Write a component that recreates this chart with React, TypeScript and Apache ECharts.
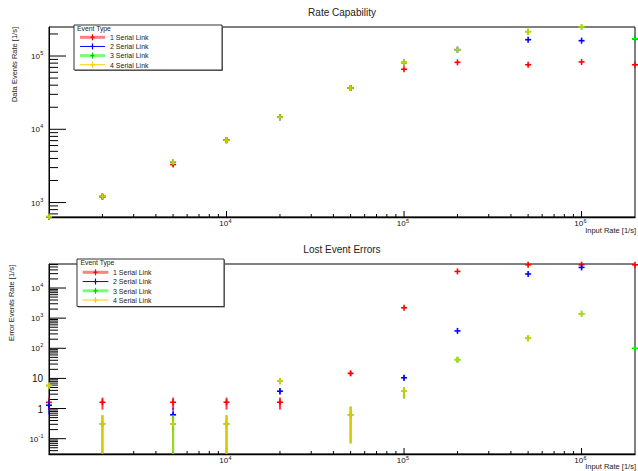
import React, { useEffect, useRef } from 'react';
import * as echarts from 'echarts';

const FONT = '"Liberation Sans", Arial, Helvetica, sans-serif';

// ---------------- data ----------------
const inputRates = [1e3, 2e3, 5e3, 1e4, 2e4, 5e4, 1e5, 2e5, 5e5, 1e6, 2e6];
const seriesNames = ['1 Serial Link', '2 Serial Link', '3 Serial Link', '4 Serial Link'];

// Rate Capability: data events rate [1/s]
const rateLink1 = [640, 1200, 3300, 7100, 14600, 36600, 66000, 82000, 76000, 83000, 76000];
const rateLink2 = [640, 1210, 3550, 7100, 14600, 36600, 81500, 122000, 167000, 162000, 172000];
const rateLink3 = [640, 1210, 3590, 7100, 14600, 36600, 81500, 122000, 215000, 249000, 172000];
const rateLink4 = [640, 1210, 3590, 7100, 14600, 36600, 81500, 122000, 215000, 249000, null];

// Lost Event Errors: error events rate [1/s] with error bar low / high
const lostLink1 = [1.6, 1.62, 1.62, 1.62, 1.62, 14.7, 2210, 35500, 59400, 59400, 59000];
const lostLink1Lo = [0.9, 0.92, 0.92, 0.92, 0.92, 12.2, null, null, null, null, null];
const lostLink1Hi = [2.3, 2.32, 2.32, 2.32, 2.32, 17.4, null, null, null, null, null];
const lostLink2 = [1.29, null, 0.62, null, 3.76, null, 10.5, 378, 29200, 48300, null];
const lostLink2Lo = [0.63, null, 0.19, null, 2.9, null, 8.4, null, null, null, null];
const lostLink2Hi = [2.0, null, 1.05, null, 4.8, null, 12.8, null, null, null, null];
const lostLink3 = [5.8, 0.31, 0.31, 0.31, 8.1, 0.62, 3.76, 41.8, 215, 1400, 100];
const lostLink3Lo = [4.6, 0.02, 0.02, 0.02, 6.7, 0.07, 2.15, 34, null, null, null];
const lostLink3Hi = [7.2, 0.6, 0.6, 0.6, 10, 1.16, 5.1, 50, null, null, null];
const lostLink4 = [5.8, 0.31, 0.31, 0.31, 8.1, 0.62, 3.76, 41.8, 215, 1400, null];
const lostLink4Lo = [4.6, 0.02, 0.02, 0.02, 6.7, 0.07, 2.15, 34, null, null, null];
const lostLink4Hi = [7.2, 0.6, 0.6, 0.6, 10, 1.16, 5.1, 50, null, null, null];

// axis ranges & ticks
const xMin = 1000, xMax = 2e6;
const rateYMin = 635, rateYMax = 2.49e5;
const lostYMin = 0.031, lostYMax = 62700;
const xMajorTicks = [1e4, 1e5, 1e6];
const xTickLabels = ['10^4', '10^5', '10^6'];
const rateYMajorTicks = [1e3, 1e4, 1e5];
const rateYTickLabels = ['10^3', '10^4', '10^5'];
const lostYMajorTicks = [0.1, 1, 10, 100, 1e3, 1e4];
const lostYTickLabels = ['10^-1', '1', '10', '10^2', '10^3', '10^4'];

// ---------------- styles ----------------
const markerColors = ['#ff0000', '#0000ff', '#00ee00', 'rgba(228,200,0,0.88)'];
const barColors = ['rgba(255,0,0,0.75)', '#0000ff', 'rgba(0,215,0,0.75)', 'rgba(232,200,0,0.9)'];
const barWidths = [2, 1, 2.2, 1.4];
const legendLine = [
  { stroke: 'rgba(255,60,60,0.65)', lineWidth: 3 },
  { stroke: '#0000ff', lineWidth: 1 },
  { stroke: 'rgba(60,255,60,0.7)', lineWidth: 3 },
  { stroke: '#ffcc00', lineWidth: 1 },
];
const legendMark = ['#ff0000', '#0000ff', '#00cc00', '#ffcc00'];

const isPow10 = (v: number) => Math.abs(Math.log10(v) - Math.round(Math.log10(v))) < 1e-9;
const findIdx = (arr: number[], v: number) => arr.findIndex((a) => Math.abs(Math.log10(a) - Math.log10(v)) < 1e-9);

function logTicks(min: number, max: number) {
  const out: number[] = [];
  const d0 = Math.floor(Math.log10(min)) - 1;
  const d1 = Math.ceil(Math.log10(max));
  for (let d = d0; d <= d1; d++) {
    for (let m = 1; m <= 9; m++) {
      const v = m * Math.pow(10, d);
      if (v > min * 1.0001 && v < max * 0.9999) out.push(v);
    }
  }
  return out;
}

function txt(text: string, x: number, y: number, size: number, align: string, valign: string, fill = '#111') {
  return {
    type: 'text',
    style: {
      text, x, y, fill,
      fontSize: size, fontFamily: FONT,
      align, verticalAlign: valign, textAlign: align, textVerticalAlign: valign,
    },
  };
}

function ln(x1: number, y1: number, x2: number, y2: number, stroke = '#000', lineWidth = 1) {
  return { type: 'line', shape: { x1, y1, x2, y2 }, style: { stroke, lineWidth } };
}

function labelEls(label: string, px: number, py: number, axis: 'x' | 'y') {
  const parts = label.split('^');
  const base = parts[0];
  const exp = parts[1];
  if (axis === 'x') {
    if (exp) return [txt(base, px + 1.7, py + 2.5, 8, 'right', 'top'), txt(exp, px + 2, py + 0.8, 5.5, 'left', 'top')];
    return [txt(base, px, py + 2.5, 8, 'center', 'top')];
  }
  if (exp) {
    const right = px - 9 - (exp.length - 1) * 1.7;
    return [txt(base, right, py + 0.5, 8, 'right', 'middle'), txt(exp, right + 0.3, py - 5.8, 5.5, 'left', 'top')];
  }
  return [txt(base, px - 6, py + 0.5, 10, 'right', 'middle')];
}

function decorSeries(gi: number, yMin: number, yMax: number, yMajor: number[], yLabels: string[]) {
  const data: number[][] = [];
  logTicks(xMin, xMax).forEach((v) => data.push([v, yMin, isPow10(v) ? 1 : 0, findIdx(xMajorTicks, v)]));
  logTicks(yMin, yMax).forEach((v) => data.push([xMin, v, isPow10(v) ? 3 : 2, findIdx(yMajor, v)]));
  return {
    type: 'custom', xAxisIndex: gi, yAxisIndex: gi, clip: false, silent: true, z: 3, data,
    renderItem: (params: any, api: any) => {
      const p = api.coord([api.value(0), api.value(1)]);
      const kind = api.value(2);
      const li = api.value(3);
      const ch: any[] = [];
      if (kind < 2) {
        ch.push(ln(p[0], p[1], p[0], p[1] - (kind === 1 ? 6 : 3)));
        if (li >= 0) ch.push(...labelEls(xTickLabels[li], p[0], p[1], 'x'));
      } else {
        ch.push(ln(p[0], p[1], p[0] + (kind === 3 ? 17 : 9), p[1]));
        if (li >= 0) ch.push(...labelEls(yLabels[li], p[0], p[1], 'y'));
      }
      return { type: 'group', children: ch };
    },
  };
}

function pointSeries(gi: number, k: number, values: (number | null)[], lo: (number | null)[] | null, hi: (number | null)[] | null, yMin: number, yMax: number) {
  const data: number[][] = [];
  inputRates.forEach((x, i) => {
    const v = values[i];
    if (v == null) return;
    data.push([x, v, (lo && lo[i]) || 0, (hi && hi[i]) || 0]);
  });
  return {
    type: 'custom', name: seriesNames[k], xAxisIndex: gi, yAxisIndex: gi, clip: false, silent: true, z: 10 + k, data,
    renderItem: (params: any, api: any) => {
      const x = api.value(0), y = api.value(1), l = api.value(2), h = api.value(3);
      const p = api.coord([x, y]);
      const ch: any[] = [];
      if (l > 0 && h > 0) {
        const a = api.coord([x, Math.max(l, yMin)]);
        const b = api.coord([x, Math.min(h, yMax)]);
        ch.push(ln(p[0], a[1], p[0], b[1], barColors[k], barWidths[k]));
      }
      const c = markerColors[k];
      ch.push(ln(p[0] - 3, p[1], p[0] + 3, p[1], c, 1.6));
      ch.push(ln(p[0], p[1] - 3, p[0], p[1] + 3, c, 1.6));
      return { type: 'group', children: ch };
    },
  };
}

function legendGraphic(x: number, y: number, w: number, h: number, headX: number, headY: number, row0: number, step: number, lx0: number, lx1: number, tx: number) {
  const ch: any[] = [
    { type: 'rect', shape: { x: x + 1, y: y + 1, width: w, height: h }, style: { fill: '#777' } },
    { type: 'rect', shape: { x, y, width: w, height: h }, style: { fill: '#fff', stroke: '#333', lineWidth: 1 } },
    txt('Event Type', headX, headY, 6.8, 'left', 'top', '#222'),
  ];
  seriesNames.forEach((n, k) => {
    const ry = row0 + k * step;
    const mx = (lx0 + lx1) / 2;
    ch.push(ln(lx0, ry, lx1, ry, legendLine[k].stroke, legendLine[k].lineWidth));
    ch.push(ln(mx, ry - 3, mx, ry + 3, legendMark[k], 1.2));
    ch.push(ln(mx - 2, ry, mx + 2, ry, legendMark[k], 1.2));
    ch.push(txt(n, tx, ry + 0.3, 7, 'left', 'middle', '#222'));
  });
  return { type: 'group', z: 100, children: ch };
}

function rotTitle(text: string, x: number, y: number) {
  return {
    type: 'text', x, y, rotation: Math.PI / 2, z: 50,
    style: { text, x: 0, y: 0, fill: '#222', fontSize: 7.5, fontFamily: FONT, align: 'right', verticalAlign: 'middle', textAlign: 'right', textVerticalAlign: 'middle' },
  };
}

function plainText(text: string, x: number, y: number, size: number, align: string) {
  return {
    type: 'text', z: 50,
    style: { text, x, y, fill: '#222', fontSize: size, fontFamily: FONT, align, verticalAlign: 'middle', textAlign: align, textVerticalAlign: 'middle' },
  };
}

const axisCommon = {
  axisTick: { show: false },
  axisLabel: { show: false },
  splitLine: { show: false },
  minorTick: { show: false },
  minorSplitLine: { show: false },
};

export default function App() {
  const ref = useRef<HTMLDivElement>(null);
  useEffect(() => {
    if (!ref.current) return;
    const chart = echarts.init(ref.current, null, { renderer: 'svg' });
    const rate = [rateLink1, rateLink2, rateLink3, rateLink4];
    const lost = [lostLink1, lostLink2, lostLink3, lostLink4];
    const lostLo = [lostLink1Lo, lostLink2Lo, lostLink3Lo, lostLink4Lo];
    const lostHi = [lostLink1Hi, lostLink2Hi, lostLink3Hi, lostLink4Hi];
    const option: any = {
      animation: false,
      backgroundColor: '#ffffff',
      textStyle: { fontFamily: FONT },
      grid: [
        { left: 49, top: 27, width: 586, height: 190, show: true, borderColor: '#000', borderWidth: 1, backgroundColor: 'transparent' },
        { left: 49, top: 264, width: 586, height: 190, show: true, borderColor: '#000', borderWidth: 1, backgroundColor: 'transparent' },
      ],
      xAxis: [0, 1].map((i) => ({
        type: 'log', logBase: 10, gridIndex: i, min: xMin, max: xMax,
        axisLine: { show: true, lineStyle: { color: '#000', width: 1.4 } },
        ...axisCommon,
      })),
      yAxis: [
        { type: 'log', logBase: 10, gridIndex: 0, min: rateYMin, max: rateYMax, axisLine: { show: true, lineStyle: { color: '#000', width: 1 } }, ...axisCommon },
        { type: 'log', logBase: 10, gridIndex: 1, min: lostYMin, max: lostYMax, axisLine: { show: true, lineStyle: { color: '#000', width: 1 } }, ...axisCommon },
      ],
      graphic: [
        plainText('Rate Capability', 342, 12.5, 10, 'center'),
        plainText('Lost Event Errors', 342, 249.5, 10, 'center'),
        rotTitle('Data Events Rate [1/s]', 14, 27),
        rotTitle('Error Events Rate [1/s]', 11, 265),
        plainText('Input Rate [1/s]', 636, 230.5, 7.5, 'right'),
        plainText('Input Rate [1/s]', 636, 466.5, 7.5, 'right'),
        legendGraphic(74, 25, 148, 45, 77, 25.3, 37.3, 9.15, 80, 105, 110),
        legendGraphic(77, 259, 147, 47.5, 80.5, 259.3, 272.3, 9.25, 82.7, 108.3, 113),
      ],
      series: [
        decorSeries(0, rateYMin, rateYMax, rateYMajorTicks, rateYTickLabels),
        decorSeries(1, lostYMin, lostYMax, lostYMajorTicks, lostYTickLabels),
        ...rate.map((vals, k) => pointSeries(0, k, vals, null, null, rateYMin, rateYMax)),
        ...lost.map((vals, k) => pointSeries(1, k, vals, lostLo[k], lostHi[k], lostYMin, lostYMax)),
      ],
    };
    chart.setOption(option);
    return () => chart.dispose();
  }, []);
  return <div ref={ref} style={{ position: 'fixed', left: 0, top: 0, width: 638, height: 471, background: '#fff' }} />;
}
